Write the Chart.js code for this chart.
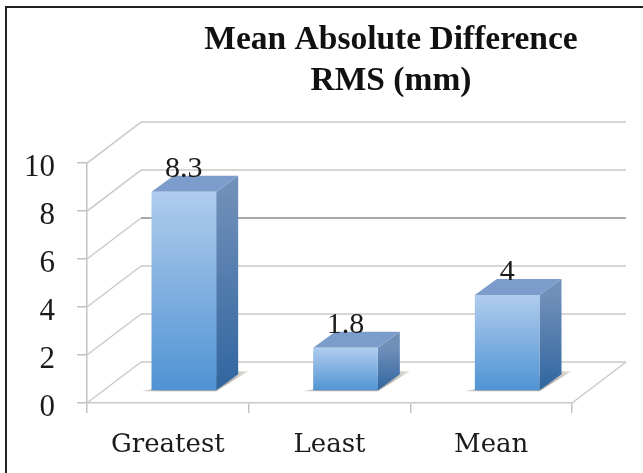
<!DOCTYPE html>
<html>
<head>
<meta charset="utf-8">
<style>
  html, body { margin: 0; padding: 0; background: #fff; }
  #wrap { position: absolute; left: 0; top: 0; width: 643px; height: 473px; }
  #frame { position: absolute; left: 5px; top: 6px; width: 638px; height: 467px; border: solid #222; border-width: 2px 0 0 2px; box-sizing: border-box; }
</style>
<script src="https://cdn.jsdelivr.net/npm/chart.js@4/dist/chart.umd.js"></script>
</head>
<body>
<div id="wrap">
  <div id="frame"></div>
  <canvas id="barChart" width="643" height="473" style="position:absolute;left:0;top:0"></canvas>
</div>
<script>
const categories = ['Greatest', 'Least', 'Mean'];
const rmsValues = [8.3, 1.8, 4];
const valueLabels = ['8.3', '1.8', '4'];
const titleLines = ['Mean Absolute Difference', 'RMS (mm)'];

// depth of the 3D box the chart sits in
const wallDx = 54, wallDy = -41;
// bars stand part way back on the floor, and have their own depth
const barShiftX = 16, barShiftY = -12;
const barDx = 22, barDy = -16;

const serif = '"Liberation Serif", serif';

function vGrad(ctx, top, bottom, c1, c2) {
    let g = ctx.createLinearGradient(0, top, 0, bottom);
    g.addColorStop(0, c1);
    g.addColorStop(1, c2);
    return g;
}

function poly(ctx, pts, fill) {
    ctx.beginPath();
    pts.forEach((p, i) => i ? ctx.lineTo(p[0], p[1]) : ctx.moveTo(p[0], p[1]));
    ctx.closePath();
    ctx.fillStyle = fill;
    ctx.fill();
}

// back wall lines, side wall diagonals and the floor edge
const wallPlugin = {
    id: 'walls',
    beforeDatasetsDraw(chart) {
        const { ctx, chartArea, scales } = chart;
        ctx.save();
        ctx.lineWidth = 1.5;
        scales.y.ticks.forEach(t => {
            let y = scales.y.getPixelForValue(t.value);
            ctx.strokeStyle = t.value === 6 ? '#8c8c8c' : '#c9c9c9';
            ctx.beginPath();
            ctx.moveTo(chartArea.left + wallDx, y + wallDy);
            ctx.lineTo(chartArea.right + wallDx, y + wallDy);
            ctx.stroke();
            ctx.strokeStyle = '#c9c9c9';
            ctx.beginPath();
            ctx.moveTo(chartArea.left, y);
            ctx.lineTo(chartArea.left + wallDx, y + wallDy);
            ctx.stroke();
        });
        ctx.beginPath();
        ctx.moveTo(chartArea.right, chartArea.bottom);
        ctx.lineTo(chartArea.right + wallDx, chartArea.bottom + wallDy);
        ctx.stroke();
        ctx.restore();
    }
};

// shifts the bars back onto the floor and adds shadow, side and top faces
const boxPlugin = {
    id: 'boxes',
    beforeDatasetDraw(chart) {
        const ctx = chart.ctx;
        ctx.save();
        ctx.translate(barShiftX, barShiftY);
        chart.getDatasetMeta(0).data.forEach(bar => {
            let l = bar.x - bar.width / 2, r = bar.x + bar.width / 2;
            let t = bar.y, b = bar.base;
            let shade = ctx.createLinearGradient(l - 10, 0, r + 32, 0);
            shade.addColorStop(0, '#dedcd6');
            shade.addColorStop(0.15, '#b3b0a8');
            shade.addColorStop(0.8, '#b3b0a8');
            shade.addColorStop(1, '#e6e4df');
            poly(ctx, [[l - 10, b + 1], [r, b + 1], [r + 32, b - 19], [r + 22, b - 19]], shade);
            poly(ctx, [[r, t], [r + barDx, t + barDy], [r + barDx, b + barDy], [r, b]],
                vGrad(ctx, t, b, '#708fb9', '#2f659f'));
            poly(ctx, [[l, t], [l + barDx, t + barDy], [r + barDx, t + barDy], [r, t]], '#7c9ccb');
        });
    },
    afterDatasetDraw(chart) {
        chart.ctx.restore();
    },
    afterDatasetsDraw(chart) {
        const ctx = chart.ctx;
        ctx.save();
        ctx.font = '30px ' + serif;
        ctx.fillStyle = '#1a1a1a';
        ctx.textAlign = 'center';
        ctx.textBaseline = 'middle';
        chart.getDatasetMeta(0).data.forEach((bar, i) => {
            ctx.fillText(valueLabels[i], bar.x + barShiftX, bar.y + barShiftY - 23);
        });
        ctx.restore();
    }
};

new Chart(document.getElementById('barChart'), {
    type: 'bar',
    data: {
        labels: categories,
        datasets: [{
            label: titleLines[1],
            data: rmsValues,
            barPercentage: 0.4,
            categoryPercentage: 1,
            borderWidth: 0,
            backgroundColor(c) {
                const { chart, parsed } = c;
                if (!chart.chartArea || !parsed) return '#7fb0e0';
                let y = chart.scales.y;
                return vGrad(chart.ctx, y.getPixelForValue(parsed.y), y.getPixelForValue(0), '#b0cced', '#4f93d3');
            }
        }]
    },
    options: {
        responsive: false,
        animation: false,
        layout: { padding: { right: 71, left: 0, top: 20, bottom: 0 } },
        plugins: {
            legend: { display: false },
            tooltip: { enabled: false },
            title: {
                display: true,
                text: titleLines,
                color: '#111',
                font: { family: serif, size: 33.5, weight: 'bold', lineHeight: 1.22 },
                padding: { top: 0, bottom: 61.3 }
            }
        },
        scales: {
            x: {
                afterFit(scale) { scale.height = 70; },
                grid: { drawOnChartArea: false, color: '#c2c2c2', lineWidth: 1.5, tickLength: 10 },
                border: { color: '#c9c9c9', width: 1.5 },
                ticks: { color: '#1a1a1a', font: { family: '"DejaVu Serif", serif', size: 26 }, padding: 17, maxRotation: 0 }
            },
            y: {
                min: 0,
                max: 10,
                afterFit(scale) { scale.width = 87; },
                grid: { drawOnChartArea: false, color: '#c2c2c2', lineWidth: 1.5, tickLength: 10 },
                border: { color: '#c2c2c2', width: 1.5 },
                ticks: { stepSize: 2, color: '#1a1a1a', font: { family: serif, size: 31 }, padding: 22, labelOffset: 5 }
            }
        }
    },
    plugins: [wallPlugin, boxPlugin, {
        id: 'titleOffset',
        // the title is centred over the wall rather than the canvas
        afterLayout(chart) {
            chart.titleBlock.left = 181;
            chart.titleBlock.right = 601;
        }
    }]
});
</script>
</body>
</html>
